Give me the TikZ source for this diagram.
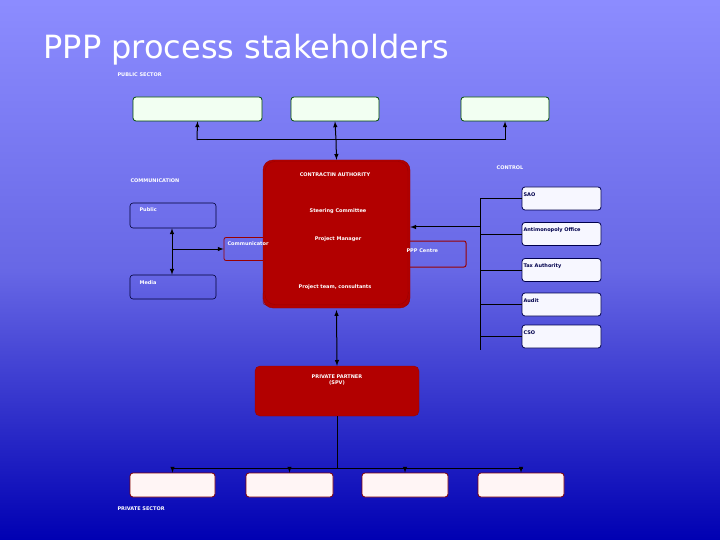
\documentclass[tikz,border=0pt]{standalone}
\usepackage{fontspec}
\setmainfont{DejaVu Sans}
\begin{document}
\begin{tikzpicture}[x=1pt,y=-1pt,
 lbl/.style={font=\fontsize{5}{6}\selectfont\bfseries,text=white},
 dlbl/.style={font=\fontsize{5}{6}\selectfont\bfseries,text=blue!30!black},
 gbox/.style={draw=green!30!black,fill=green!5,rounded corners=3pt,line width=0.8pt},
 pbox/.style={draw=red!50!black,fill=red!4,rounded corners=3pt,line width=0.8pt},
 wbox/.style={draw=blue!20!black,rounded corners=3pt,line width=0.6pt},
 rbig/.style={draw=red!60!black,fill=red!70!black,rounded corners=10pt},
 ln/.style={line width=1pt,black},
 ar/.style={ln,-latex}]
\shade[top color=blue!45!white,bottom color=blue!70!black,middle color=blue!55!white!90!black] (0,0) rectangle (720,540);
\useasboundingbox (0,0) rectangle (720,540);
\node[anchor=west,text=white,font=\fontsize{32}{36}\selectfont] (title) at (40,50) {PPP process stakeholders};
\node[lbl,anchor=west] (pub) at (114,75) {PUBLIC SECTOR};
\node[gbox,minimum width=129pt,minimum height=24pt] (t1) at (197.5,109) {};
\node[gbox,minimum width=88pt,minimum height=24pt] (t2) at (335,109) {};
\node[gbox,minimum width=88pt,minimum height=24pt] (t3) at (505,109) {};
\coordinate (h1) at (197,140); \coordinate (h3) at (505,140); \coordinate (hm) at (336,140);
\draw[ln] (h1)--(h3);
\draw[ar] (h1)--(t1.south); \draw[ar] (hm)--(t2.south); \draw[ar] (h3)--(t3.south);
\node[draw=red!60!black,line width=0.8pt,rounded corners=2pt,minimum width=44pt,minimum height=23pt] (comm) at (246,249) {};
\node[draw=red!60!black,line width=1pt,rounded corners=2pt,minimum width=62pt,minimum height=26pt] (pppc) at (435,254) {};
\node[rbig,minimum width=147pt,minimum height=148pt] (ca) at (336.5,234) {};
\node[draw=red!60!black,rounded corners=3pt,minimum width=146pt,minimum height=14pt] (cab) at (336,298) {};
\node[rbig,minimum width=143pt,minimum height=143pt] at (336.5,233) {};
\draw[ar] (hm)--(ca.north);
\node[lbl,anchor=west] at (224,244) {Communicator};
\node[lbl] at (335,175) {CONTRACTIN AUTHORITY};
\node[lbl] at (338,211) {Steering Committee};
\node[lbl] at (338,239) {Project Manager};
\node[lbl] at (335,287) {Project team, consultants};
\node[lbl,anchor=west] at (403,251) {PPP Centre};
\node[lbl,anchor=west] (comml) at (127,181) {COMMUNICATION};
\node[wbox,minimum width=86pt,minimum height=25pt] (public) at (173,215.5) {};
\node[lbl,anchor=west] at (136,210) {Public};
\node[wbox,minimum width=86pt,minimum height=24pt] (media) at (173,287) {};
\node[lbl,anchor=west] at (136,283) {Media};
\coordinate (cm) at (172,249);
\draw[ar,latex-latex] (public.south-|cm)--(media.north-|cm);
\draw[ar] (cm)--(comm.west);
\node[lbl] (ctl) at (510,168) {CONTROL};
\foreach \n/\y/\t in {sao/198.5/SAO,anti/234/Antimonopoly Office,tax/270/Tax Authority,aud/304.5/Audit,cso/336.5/CSO}{
 \node[gbox,draw=blue!30!black,fill=blue!3,minimum width=79pt,minimum height=23pt] (\n) at (561.5,\y) {};
 \node[dlbl,anchor=west] at (520,\y-4) {\t};
 \draw[ln] (480,\y)--(\n.west);
}
\coordinate (cv1) at (480,198.5); \coordinate (cv2) at (480,350); \coordinate (cj) at (480,227);
\draw[ln] (cv1)--(cv2);
\draw[ar] (cj)--(cj-|ca.east);
\node[rbig,rounded corners=5pt,minimum width=164pt,minimum height=50pt] (pp) at (337,391) {};
\node[lbl,align=center] at (337,380) {PRIVATE PARTNER\\(SPV)};
\draw[ar,latex-latex] (ca.south |- 0,310)--(pp.north);
\coordinate (bl) at (172,468); \coordinate (br) at (523,468);
\draw[ln] (pp.south)--(337,468); \draw[ln] (bl)--(br);
\node[pbox,minimum width=85pt,minimum height=24pt] (p1) at (172.5,485) {};
\node[pbox,minimum width=87pt,minimum height=24pt] (p2) at (289.5,485) {};
\node[pbox,minimum width=86pt,minimum height=24pt] (p3) at (405,485) {};
\node[pbox,minimum width=86pt,minimum height=24pt] (p4) at (521,485) {};
\foreach \p in {p1,p2,p3,p4}{\draw[ar] (\p.north|-bl)--(\p.north);}
\node[lbl,anchor=west] (priv) at (114,509) {PRIVATE SECTOR};
\end{tikzpicture}
\end{document}
